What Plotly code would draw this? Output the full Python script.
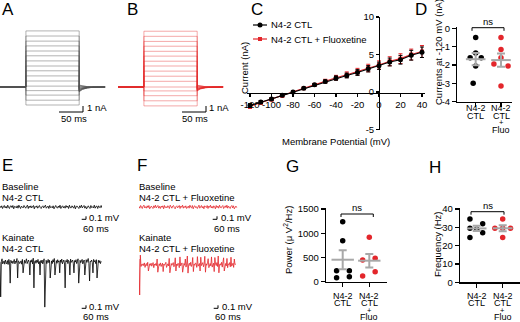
import plotly.graph_objects as go

W, H = 520, 322
FONT = "Liberation Sans, Arial, sans-serif"
RED = "#e3262b"
GRAY = "#a8a8a8"

# ---------------- data ----------------
# A / B : current sweeps (nA) during a step protocol (ms)
protocol_ms = [0, 54, 165, 219]            # start, step on, step off, end
tail_ms = [172, 182, 195]
tail_decay = [0.5, 0.2, 0.05]
levels_ctl = [-3.0, -2.2, -1.35, -0.6, 0.15, 1.0, 1.85, 2.7, 3.5, 4.35, 5.2, 6.0, 6.85, 7.65, 8.5, 9.35]
tails_ctl = [0.35, 0.3, 0.2, 0.1, 0.0, -0.1, -0.2, -0.3, -0.4, -0.45, -0.5, -0.6, -0.65, -0.7, -0.75, -0.8]
levels_fluo = [-3.15, -2.3, -1.45, -0.65, 0.1, 0.95, 1.8, 2.65, 3.5, 4.3, 5.15, 5.95, 6.8, 7.6, 8.45, 9.3]
tails_fluo = [0.3, 0.25, 0.2, 0.1, 0.0, -0.05, -0.15, -0.2, -0.3, -0.35, -0.4, -0.45, -0.5, -0.55, -0.6, -0.65]

# C : I-V relation
voltage_mV = [-120, -110, -100, -90, -80, -70, -60, -50, -40, -30, -20, -10, 0, 10, 20, 30, 40]
iv_ctl = [-1.8, -1.35, -0.95, -0.45, 0.0, 0.5, 0.95, 1.4, 1.85, 2.2, 2.6, 3.1, 3.5, 4.0, 4.3, 4.9, 5.3]
iv_ctl_sem = [0.25, 0.2, 0.18, 0.15, 0.12, 0.12, 0.15, 0.2, 0.28, 0.32, 0.38, 0.42, 0.48, 0.52, 0.58, 0.65, 0.7]
iv_fluo = [-1.9, -1.4, -1.0, -0.5, 0.0, 0.5, 0.95, 1.45, 1.9, 2.3, 2.7, 3.2, 3.6, 4.1, 4.45, 5.0, 5.4]
iv_fluo_sem = [0.3, 0.25, 0.2, 0.18, 0.15, 0.15, 0.18, 0.25, 0.32, 0.38, 0.45, 0.5, 0.55, 0.6, 0.65, 0.72, 0.8]

# D : currents at -120 mV (nA)
d_ctl = [-0.5, -1.35, -1.6, -1.6, -2.05, -3.0]
d_fluo = [-0.5, -1.15, -1.6, -1.95, -2.05, -3.15]

# E / F : field potential traces (units of 0.01 mV)
e_base = [3, -2, 4, -5, 1, 5, -3, 2, -4, 6, -1, -5, 3, 4, -2, 5, -6, 2, 1, -3,
          4, -4, 6, -2, -5, 3, 1, -3, 5, -1, -4, 2, 6, -5, 3, -2, 4, -3, 1, 5,
          -6, 2, -1, 4, -4, 3, 5, -2, -5, 1, 4, -3, 2, 6, -4, -1, 3, -5, 5, -2,
          1, -3, 4, -6, 2, 5, -1, -4, 3, -2, 6, -5, 1, 4, -3, 2, -4, 5, -1, 3,
          -5, 6, -2, -3, 4, 1, -4, 5, -6, 2, 3, -1, -5, 4, -2, 6, -3, 1, 5, -4,
          2, -6, 3, 4, -1, -5, 5, -2, 1, -3, 6, -4, 2, 3, -5, 4, -1, -2, 5, -3]
e_kainate = [3, -113, 6, 14, -3, 2, 7, -4, 10, 2,
             -3, 8, -5, 12, 4, -67, 9, 1, 6, -2,
             4, 12, -3, 6, 2, 15, -50, 7, 5, -2,
             3, 7, -4, 12, -33, 4, 9, -1, 6, 14,
             -2, 4, 10, 2, -40, 8, 3, 11, -3, 16,
             -83, 5, 8, -1, 9, 2, 12, -3, 5, -40,
             8, 1, 10, -3, 5, 14, -147, 4, 9, -2,
             6, 12, 1, 9, -50, 5, 7, -2, 11, 3,
             15, -40, 5, 8, -1, 11, 3, 7, -33, 10,
             2, 13, -3, 6, 10, 1, -83, 8, 4, 12,
             -2, 9, 5, -40, 13, 2, 6, 10, -1, -33,
             8, 3, 11, -2, 5, 14, -67, 4, 9, 1,
             7, 12, -3, 5, 10, -40, 3, 11, 2, 8,
             15, -1, -60, 6, 4, 10, 2, -33, 12, 4,
             8, -2, 11, -50, 5, 9, 1, 8, -2, 6]
f_base = [2, -4, 5, -1, -5, 3, 6, -3, 1, -4, 4, -2, 5, -6, 2, 3, -1, -5, 4, -2,
          6, -3, 1, 5, -4, 2, -5, 3, -1, 4, -6, 5, -2, 1, -3, 4, 2, -5, 6, -1,
          -4, 3, 5, -2, -6, 1, 4, -3, 2, 5, -5, 3, -1, 6, -4, 2, -2, 4, -5, 1,
          3, -4, 6, -1, -3, 5, -6, 2, 4, -2, 1, -5, 3, 6, -4, -1, 5, -3, 2, -6,
          4, 1, -2, 5, -5, 3, -1, 6, -3, 2, -4, 4, 1, -6, 5, -2, 3, -4, 6, -1,
          -3, 2, 5, -5, 1, 4, -2, 6, -4, 3, -1, -5, 2, 5, -3, 4, -6, 1, 3, -2]
f_kainate = [20, -100, 33, -5, 2, -1, 4, -2, 7, -8,
             1, 5, -3, 9, -20, 1, 4, -1, 6, -4,
             2, 8, -9, 3, -1, 5, -2, 20, -24, 1,
             4, -2, 7, -5, 2, 6, -22, 3, -1, 5,
             9, -8, 1, 4, -3, 22, -26, 2, 5, -1,
             3, 8, -6, 1, 24, -20, 3, -2, 6, 4,
             -9, 27, -3, 1, 7, -24, 2, 5, -1, 20,
             -7, 3, 30, -27, 2, 6, -2, 9, -5, 1,
             25, -22, 3, -1, 7, 4, -8, 28, -4, 2,
             5, -20, 26, -2, 1, 8, -6, 3, 29, -24,
             4, -1, 7, 21, -9, 2, 5, -3, 27, -7,
             1, 6, -22, 25, 3, -2, 8, -5, 30, -26,
             2, 4, -1, 9, -7, 3, 24, -20, 2, 5,
             -3, 22, -9, 4, 1, 8, -6, 26, -4, 2,
             6, -8, 20, 1, 3]
sample_ms = {"e_base": 12.0, "e_kainate": 9.5, "f_base": 11.5, "f_kainate": 9.4}

# G : power (uV^2/Hz), H : frequency (Hz)
g_ctl = [1237, 845, 227, 227, 82, 103]
g_fluo = [915, 482, 447, 206, 117]
h_ctl = [34.5, 32.0, 29.5, 29.0, 27.0, 24.5]
h_fluo = [34.5, 29.5, 29.5, 29.5, 24.5]

group_lines = [["N4-2", "CTL"], ["N4-2", "CTL", "+", "Fluo"]]
iv_xticks = [-120, -100, -80, -60, -40, -20, 0, 20, 40]
iv_xticktext = ["-120", "-100", "-80", "-60", "-40", "-20", "0", "20", "40"]
iv_yticks = [-5, 0, 5, 10]
iv_yticktext = ["-5", "0", "5", "10"]
d_yticks = [-4, -3, -2, -1, 0]
d_yticktext = ["-4", "-3", "-2", "-1", "0"]
g_yticks = [0, 500, 1000, 1500]
h_yticks = [0, 10, 20, 30, 40]

# ---------------- layout helpers ----------------
def px(x): return x / W
def py(y): return 1 - y / H

panels = {
    1: dict(xd=(0, 110), yd=(20, 120), xr=(0, 229.2), yr=(-5.5, 11.17)),      # A
    2: dict(xd=(118, 228), yd=(20, 120), xr=(0, 229.2), yr=(-5.5, 11.17)),    # B
    3: dict(xd=(246.8, 425.2), yd=(17, 129.5), xr=(-123, 43), yr=(-5, 10)),  # C
    4: dict(xd=(457.3, 512), yd=(26.7, 101.7), xr=(-0.727, 1.435), yr=(-4, 0.087)),  # D
    5: dict(xd=(0, 102), yd=(190, 224), xr=(0, 1428), yr=(-0.567, 0.567)),   # E base
    6: dict(xd=(0, 102), yd=(245, 312), xr=(0, 1428), yr=(-1.633, 0.6)),     # E kainate
    7: dict(xd=(139, 241), yd=(190, 224), xr=(0, 1428), yr=(-0.567, 0.567)), # F base
    8: dict(xd=(139, 241), yd=(245, 312), xr=(0, 1428), yr=(-1.567, 0.667)), # F kainate
    9: dict(xd=(326, 386.7), yd=(208.3, 281.7), xr=(-0.628, 1.654), yr=(0, 1514)),  # G
    10: dict(xd=(460, 520), yd=(208.3, 282.3), xr=(-0.642, 1.665), yr=(0, 40.4)),   # H
}

def to_data(ax, X, Y):
    p = panels[ax]
    x0, x1 = p["xd"]; yt, yb = p["yd"]
    a, b = p["xr"]; lo, hi = p["yr"]
    return a + (X - x0) / (x1 - x0) * (b - a), lo + (yb - Y) / (yb - yt) * (hi - lo)

fig = go.Figure()

def ref(ax):
    return ("x" if ax == 1 else f"x{ax}"), ("y" if ax == 1 else f"y{ax}")

def add(tr, ax):
    xr, yr = ref(ax)
    tr.update(xaxis=xr, yaxis=yr, showlegend=False, hoverinfo="skip")
    fig.add_trace(tr)

# ---- A / B sweeps ----
def sweeps(levels, tails, ax, color):
    for L, T in zip(levels, tails):
        xs = [protocol_ms[0], protocol_ms[1], protocol_ms[1], protocol_ms[2], protocol_ms[2]] + tail_ms + [protocol_ms[3]]
        ys = [0, 0, L, L, T] + [T * f for f in tail_decay] + [0]
        add(go.Scatter(x=xs, y=ys, mode="lines", line=dict(color=color, width=0.8)), ax)

sweeps(levels_ctl, tails_ctl, 1, "rgba(80,80,80,0.55)")
sweeps(levels_fluo, tails_fluo, 2, "rgba(228,40,40,0.5)")

def scale_bar(ax, Xc, Yc, dt, dv):
    tc, vc = to_data(ax, Xc, Yc)
    add(go.Scatter(x=[tc - dt, tc, tc], y=[vc, vc, vc + dv], mode="lines",
                   line=dict(color="black", width=1), cliponaxis=False), ax)

scale_bar(1, 83, 112, 50, 1)
scale_bar(2, 206, 112, 50, 1)

# ---- E / F traces ----
def trace(vals, dt, ax, color):
    add(go.Scatter(x=[i * dt for i in range(len(vals))], y=[v * 0.01 for v in vals],
                   mode="lines", line=dict(color=color, width=0.8)), ax)

trace(e_base, sample_ms["e_base"], 5, "black")
trace(e_kainate, sample_ms["e_kainate"], 6, "black")
trace(f_base, sample_ms["f_base"], 7, RED)
trace(f_kainate, sample_ms["f_kainate"], 8, RED)
scale_bar(5, 86, 219.3, 60, 0.1)
scale_bar(6, 86, 308.3, 60, 0.1)
scale_bar(7, 217, 219.3, 60, 0.1)
scale_bar(8, 218, 308.3, 60, 0.1)

# ---- C: I-V ----
add(go.Scatter(x=voltage_mV, y=iv_fluo, mode="lines+markers",
               line=dict(color=RED, width=1.2), marker=dict(color=RED, size=4, symbol="square"),
               error_y=dict(type="data", array=iv_fluo_sem, color=RED, thickness=1, width=2),
               cliponaxis=False), 3)
add(go.Scatter(x=voltage_mV, y=iv_ctl, mode="lines+markers",
               line=dict(color="black", width=1.2), marker=dict(color="black", size=5),
               error_y=dict(type="data", array=iv_ctl_sem, color="black", thickness=1, width=2),
               cliponaxis=False), 3)

# ---- dot plots ----
def dots(vals, offsets, grp, ax, color):
    add(go.Scatter(x=[grp + o for o in offsets], y=vals, mode="markers",
                   marker=dict(color=color, size=5.5, line=dict(width=0)), cliponaxis=False), ax)

def mean_sem(vals, grp, ax, width_px):
    n = len(vals)
    m = sum(vals) / n
    sd = (sum((v - m) ** 2 for v in vals) / (n - 1)) ** 0.5
    add(go.Scatter(x=[grp], y=[m], mode="markers",
                   marker=dict(symbol="line-ew", size=width_px, line=dict(color=GRAY, width=2)),
                   error_y=dict(type="data", array=[sd / n ** 0.5], color=GRAY, thickness=2, width=4),
                   cliponaxis=False), ax)

dots(d_ctl, [0, 0, -0.22, 0.22, 0, -0.1], 0, 4, "black")
dots(d_fluo, [0, 0, 0, -0.28, 0.28, 0], 1, 4, RED)
mean_sem(d_ctl, 0, 4, 14)
mean_sem(d_fluo, 1, 4, 14)

dots(g_ctl, [0, 0, -0.23, 0.25, -0.23, 0.25], 0, 9, "black")
dots(g_fluo, [0, 0.22, -0.25, 0.22, -0.25], 1, 9, RED)
mean_sem(g_ctl, 0, 9, 16)
mean_sem(g_fluo, 1, 9, 16)

dots(h_ctl, [-0.26, 0.23, -0.26, 0, 0.23, -0.26], 0, 10, "black")
dots(h_fluo, [0, -0.3, 0, 0.3, 0], 1, 10, RED)
mean_sem(h_ctl, 0, 10, 14)
mean_sem(h_fluo, 1, 10, 14)

# ---------------- axes ----------------
layout = dict(template="none", width=W, height=H, margin=dict(l=0, r=0, t=0, b=0, pad=0),
              autosize=False,
              paper_bgcolor="white", plot_bgcolor="rgba(0,0,0,0)",
              font=dict(family=FONT, size=9.5, color="black"), showlegend=False)

tickfont = dict(family=FONT, size=9.5, color="black")
for ax, p in panels.items():
    xn = "xaxis" if ax == 1 else f"xaxis{ax}"
    yn = "yaxis" if ax == 1 else f"yaxis{ax}"
    xr, yr = ref(ax)
    xa = dict(domain=[px(p["xd"][0]), px(p["xd"][1])], range=list(p["xr"]), anchor=yr,
              showgrid=False, zeroline=False, fixedrange=True, automargin=False)
    ya = dict(domain=[py(p["yd"][1]), py(p["yd"][0])], range=list(p["yr"]), anchor=xr,
              showgrid=False, zeroline=False, fixedrange=True, automargin=False)
    if ax in (1, 2, 5, 6, 7, 8):
        xa["visible"] = False
        ya["visible"] = False
    else:
        common = dict(showline=True, linecolor="black", linewidth=1.3, ticks="outside",
                      ticklen=4, tickwidth=1.3, tickcolor="black", tickfont=tickfont)
        xa.update(common)
        ya.update(common)
        if ax == 3:
            xa.update(anchor="free", position=py(92.7), tickvals=iv_xticks, ticktext=iv_xticktext, ticklen=3)
            ya.update(anchor="free", position=px(379), tickvals=iv_yticks, ticktext=iv_yticktext, ticklen=3)
        else:
            xa.update(tickvals=[0, 1], showticklabels=False)
            if ax == 4:
                ya.update(tickvals=d_yticks, ticktext=d_yticktext)
            elif ax == 9:
                ya.update(tickvals=g_yticks, ticktext=[str(v) for v in g_yticks])
            else:
                ya.update(tickvals=h_yticks, ticktext=[str(v) for v in h_yticks])
    layout[xn] = xa
    layout[yn] = ya

fig.update_layout(**layout)

# ---------------- text ----------------
def text(s, X, Y, size=9.5, anchor="left", angle=0, color="black"):
    fig.add_annotation(text=s, x=px(X), y=py(Y), xref="paper", yref="paper",
                       xanchor=anchor, yanchor="middle", showarrow=False, textangle=angle,
                       font=dict(family=FONT, size=size, color=color), borderpad=0)

for letter, X, Y in [("A", 1, 9), ("B", 126, 9), ("C", 250, 9), ("D", 414, 9),
                     ("E", 1, 165), ("F", 136, 165), ("G", 285, 166), ("H", 428, 167)]:
    text(letter, X, Y, size=17)

text("1 nA", 86, 107); text("50 ms", 60, 118)
text("1 nA", 208, 107); text("50 ms", 181, 118)

text("Baseline", 1, 186); text("N4-2 CTL", 1, 197)
text("Kainate", 1, 237); text("N4-2 CTL", 1, 248)
text("0.1 mV", 88, 217.5); text("60 ms", 82, 229)
text("0.1 mV", 88, 306.5); text("60 ms", 82, 316.8)

text("Baseline", 138, 186); text("N4-2 CTL + Fluoxetine", 138, 197)
text("Kainate", 138, 237.5); text("N4-2 CTL + Fluoxetine", 138, 248.3)
text("0.1 mV", 220, 217.5); text("60 ms", 213, 229)
text("0.1 mV", 221, 306.5); text("60 ms", 214, 316.8)

# C legend and axis titles
for Y, col, sym in [(25, "black", "circle"), (39, RED, "square")]:
    fig.add_shape(type="line", xref="paper", yref="paper", x0=px(253), x1=px(267), y0=py(Y), y1=py(Y),
                  line=dict(color=col, width=1.2))
    r = 2.5 if col == "black" else 2
    fig.add_shape(type="circle" if sym == "circle" else "rect", xref="paper", yref="paper",
                  x0=px(260 - r), x1=px(260 + r), y0=py(Y + r), y1=py(Y - r),
                  fillcolor=col, line=dict(width=0))
text("N4-2 CTL", 270, 25)
text("N4-2 CTL + Fluoxetine", 270, 39)
text("Current (nA)", 245, 68, anchor="center", angle=-90)
text("Membrane Potential (mV)", 336, 141, anchor="center")

# D / G / H axis titles
text("Currents at -120 mV (nA)", 439, 52, anchor="center", angle=-90)
text("Power (μ V<sup>2</sup>/Hz)", 288, 240, anchor="center", angle=-90)
text("Frequency (Hz)", 437, 245, anchor="center", angle=-90)

# group labels
label_rows = {4: [108.3, 116, 122.8, 130.3], 9: [295.5, 303.2, 310, 317.2], 10: [295.5, 303.2, 310, 317.2]}
group_px = {4: [475.7, 501], 9: [342.7, 369.3], 10: [476.7, 502.7]}
for ax in (4, 9, 10):
    for g, lines in enumerate(group_lines):
        for k, s in enumerate(lines):
            text(s, group_px[ax][g], label_rows[ax][k], anchor="center", size=9 if s != "+" else 7.5)

# significance brackets
for (x0, x1, yb, yl, yt) in [(472, 504, 27.7, 30.8, 21.5), (341, 373.3, 214, 217, 207.5), (471, 504, 211.7, 214.7, 205.5)]:
    fig.add_shape(type="path", xref="paper", yref="paper",
                  path=f"M {px(x0)} {py(yl)} L {px(x0)} {py(yb)} L {px(x1)} {py(yb)} L {px(x1)} {py(yl)}",
                  line=dict(color="black", width=1))
    text("ns", (x0 + x1) / 2, yt, anchor="center")

fig.write_html("out.html", config={"displayModeBar": False, "staticPlot": True},
               post_script="document.body.style.margin='0';document.body.style.overflow='hidden';")
